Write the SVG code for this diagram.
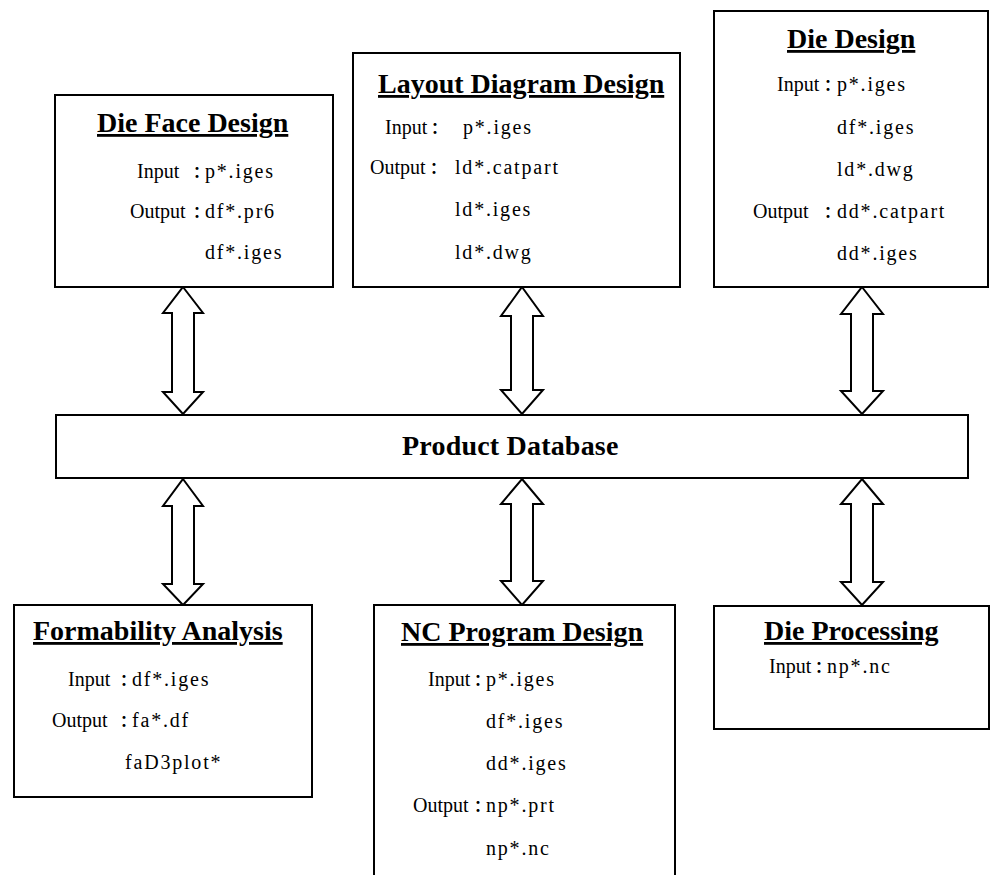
<svg xmlns="http://www.w3.org/2000/svg" width="990" height="875" viewBox="0 0 990 875">
<style>
.box{fill:#fff;stroke:#000;stroke-width:2}
.arrow{fill:#fff;stroke:#000;stroke-width:2;stroke-linejoin:miter}
.title{font-family:"Liberation Serif","Times New Roman",serif;font-weight:bold;font-size:28px;fill:#000;text-decoration:underline;text-decoration-thickness:3px;text-underline-offset:5px}
.db{font-family:"Liberation Serif","Times New Roman",serif;font-weight:bold;font-size:28px;fill:#000;letter-spacing:0.2px}
.body{font-family:"Liberation Serif","Noto Sans CJK TC",serif;font-size:20px;fill:#000}
.c{font-family:"Noto Sans CJK TC","Noto Sans CJK SC",sans-serif;font-size:16px;font-weight:bold}
.v{letter-spacing:1.8px}
</style>
<rect width="990" height="875" fill="#fff"/>
<g id="connectors">
  <polygon class="arrow" points="183,287 203,313 194,313 194,392 203,392 183,414 163,392 172,392 172,313 163,313"/>
  <polygon class="arrow" points="522,287 543,316 533,316 533,390 543,390 522,414 501,390 511,390 511,316 501,316"/>
  <polygon class="arrow" points="862,287 883,314 873,314 873,391 883,391 862,414 841,391 851,391 851,314 841,314"/>
  <polygon class="arrow" points="183,479 203,506 194,506 194,584 203,584 183,605 163,584 172,584 172,506 163,506"/>
  <polygon class="arrow" points="522,479 543,504 533,504 533,581 543,581 522,605 501,581 511,581 511,504 501,504"/>
  <polygon class="arrow" points="862,479 883,504 873,504 873,582 883,582 862,605 841,582 851,582 851,504 841,504"/>
</g>
<g id="die-face-design">
  <rect class="box" x="55" y="95" width="278" height="192"/>
  <text class="title" x="97" y="132">Die Face Design</text>
  <text class="body" x="137" y="178">Input<tspan class="c" x="189">：</tspan><tspan class="v" x="205">p*.iges</tspan></text>
  <text class="body" x="130" y="218">Output<tspan class="c" x="189">：</tspan><tspan class="v" x="205">df*.pr6</tspan></text>
  <text class="body v" x="205" y="259">df*.iges</text>
</g>
<g id="layout-diagram-design">
  <rect class="box" x="353" y="53" width="327" height="234"/>
  <text class="title" x="378" y="93">Layout Diagram Design</text>
  <text class="body" x="385" y="134">Input<tspan class="c" x="427">：</tspan><tspan class="v" x="463">p*.iges</tspan></text>
  <text class="body" x="370" y="174">Output<tspan class="c" x="426">：</tspan><tspan class="v" x="455">ld*.catpart</tspan></text>
  <text class="body v" x="455" y="216">ld*.iges</text>
  <text class="body v" x="455" y="259">ld*.dwg</text>
</g>
<g id="die-design">
  <rect class="box" x="714" y="11" width="274" height="276"/>
  <text class="title" x="787" y="48">Die Design</text>
  <text class="body" x="777" y="91">Input<tspan class="c" x="820">：</tspan><tspan class="v" x="837">p*.iges</tspan></text>
  <text class="body v" x="837" y="134">df*.iges</text>
  <text class="body v" x="837" y="176">ld*.dwg</text>
  <text class="body" x="753" y="218">Output<tspan class="c" x="820">：</tspan><tspan class="v" x="837">dd*.catpart</tspan></text>
  <text class="body v" x="837" y="260">dd*.iges</text>
</g>
<g id="product-database">
  <rect class="box" x="56" y="415" width="912" height="63"/>
  <text class="db" x="402" y="455">Product Database</text>
</g>
<g id="formability-analysis">
  <rect class="box" x="14" y="605" width="298" height="192"/>
  <text class="title" x="33" y="640">Formability Analysis</text>
  <text class="body" x="68" y="686">Input<tspan class="c" x="116">：</tspan><tspan class="v" x="132">df*.iges</tspan></text>
  <text class="body" x="52" y="727">Output<tspan class="c" x="116">：</tspan><tspan class="v" x="132">fa*.df</tspan></text>
  <text class="body v" x="125" y="769">faD3plot*</text>
</g>
<g id="nc-program-design">
  <rect class="box" x="374" y="605" width="301" height="300"/>
  <text class="title" x="401" y="641">NC Program Design</text>
  <text class="body" x="428" y="686">Input<tspan class="c" x="470">：</tspan><tspan class="v" x="486">p*.iges</tspan></text>
  <text class="body v" x="486" y="728">df*.iges</text>
  <text class="body v" x="486" y="770">dd*.iges</text>
  <text class="body" x="413" y="812">Output<tspan class="c" x="470">：</tspan><tspan class="v" x="486">np*.prt</tspan></text>
  <text class="body v" x="486" y="855">np*.nc</text>
</g>
<g id="die-processing">
  <rect class="box" x="714" y="606" width="275" height="123"/>
  <text class="title" x="764" y="640">Die Processing</text>
  <text class="body" x="769" y="673">Input<tspan class="c" x="811">：</tspan><tspan class="v" x="827">np*.nc</tspan></text>
</g>
</svg>
